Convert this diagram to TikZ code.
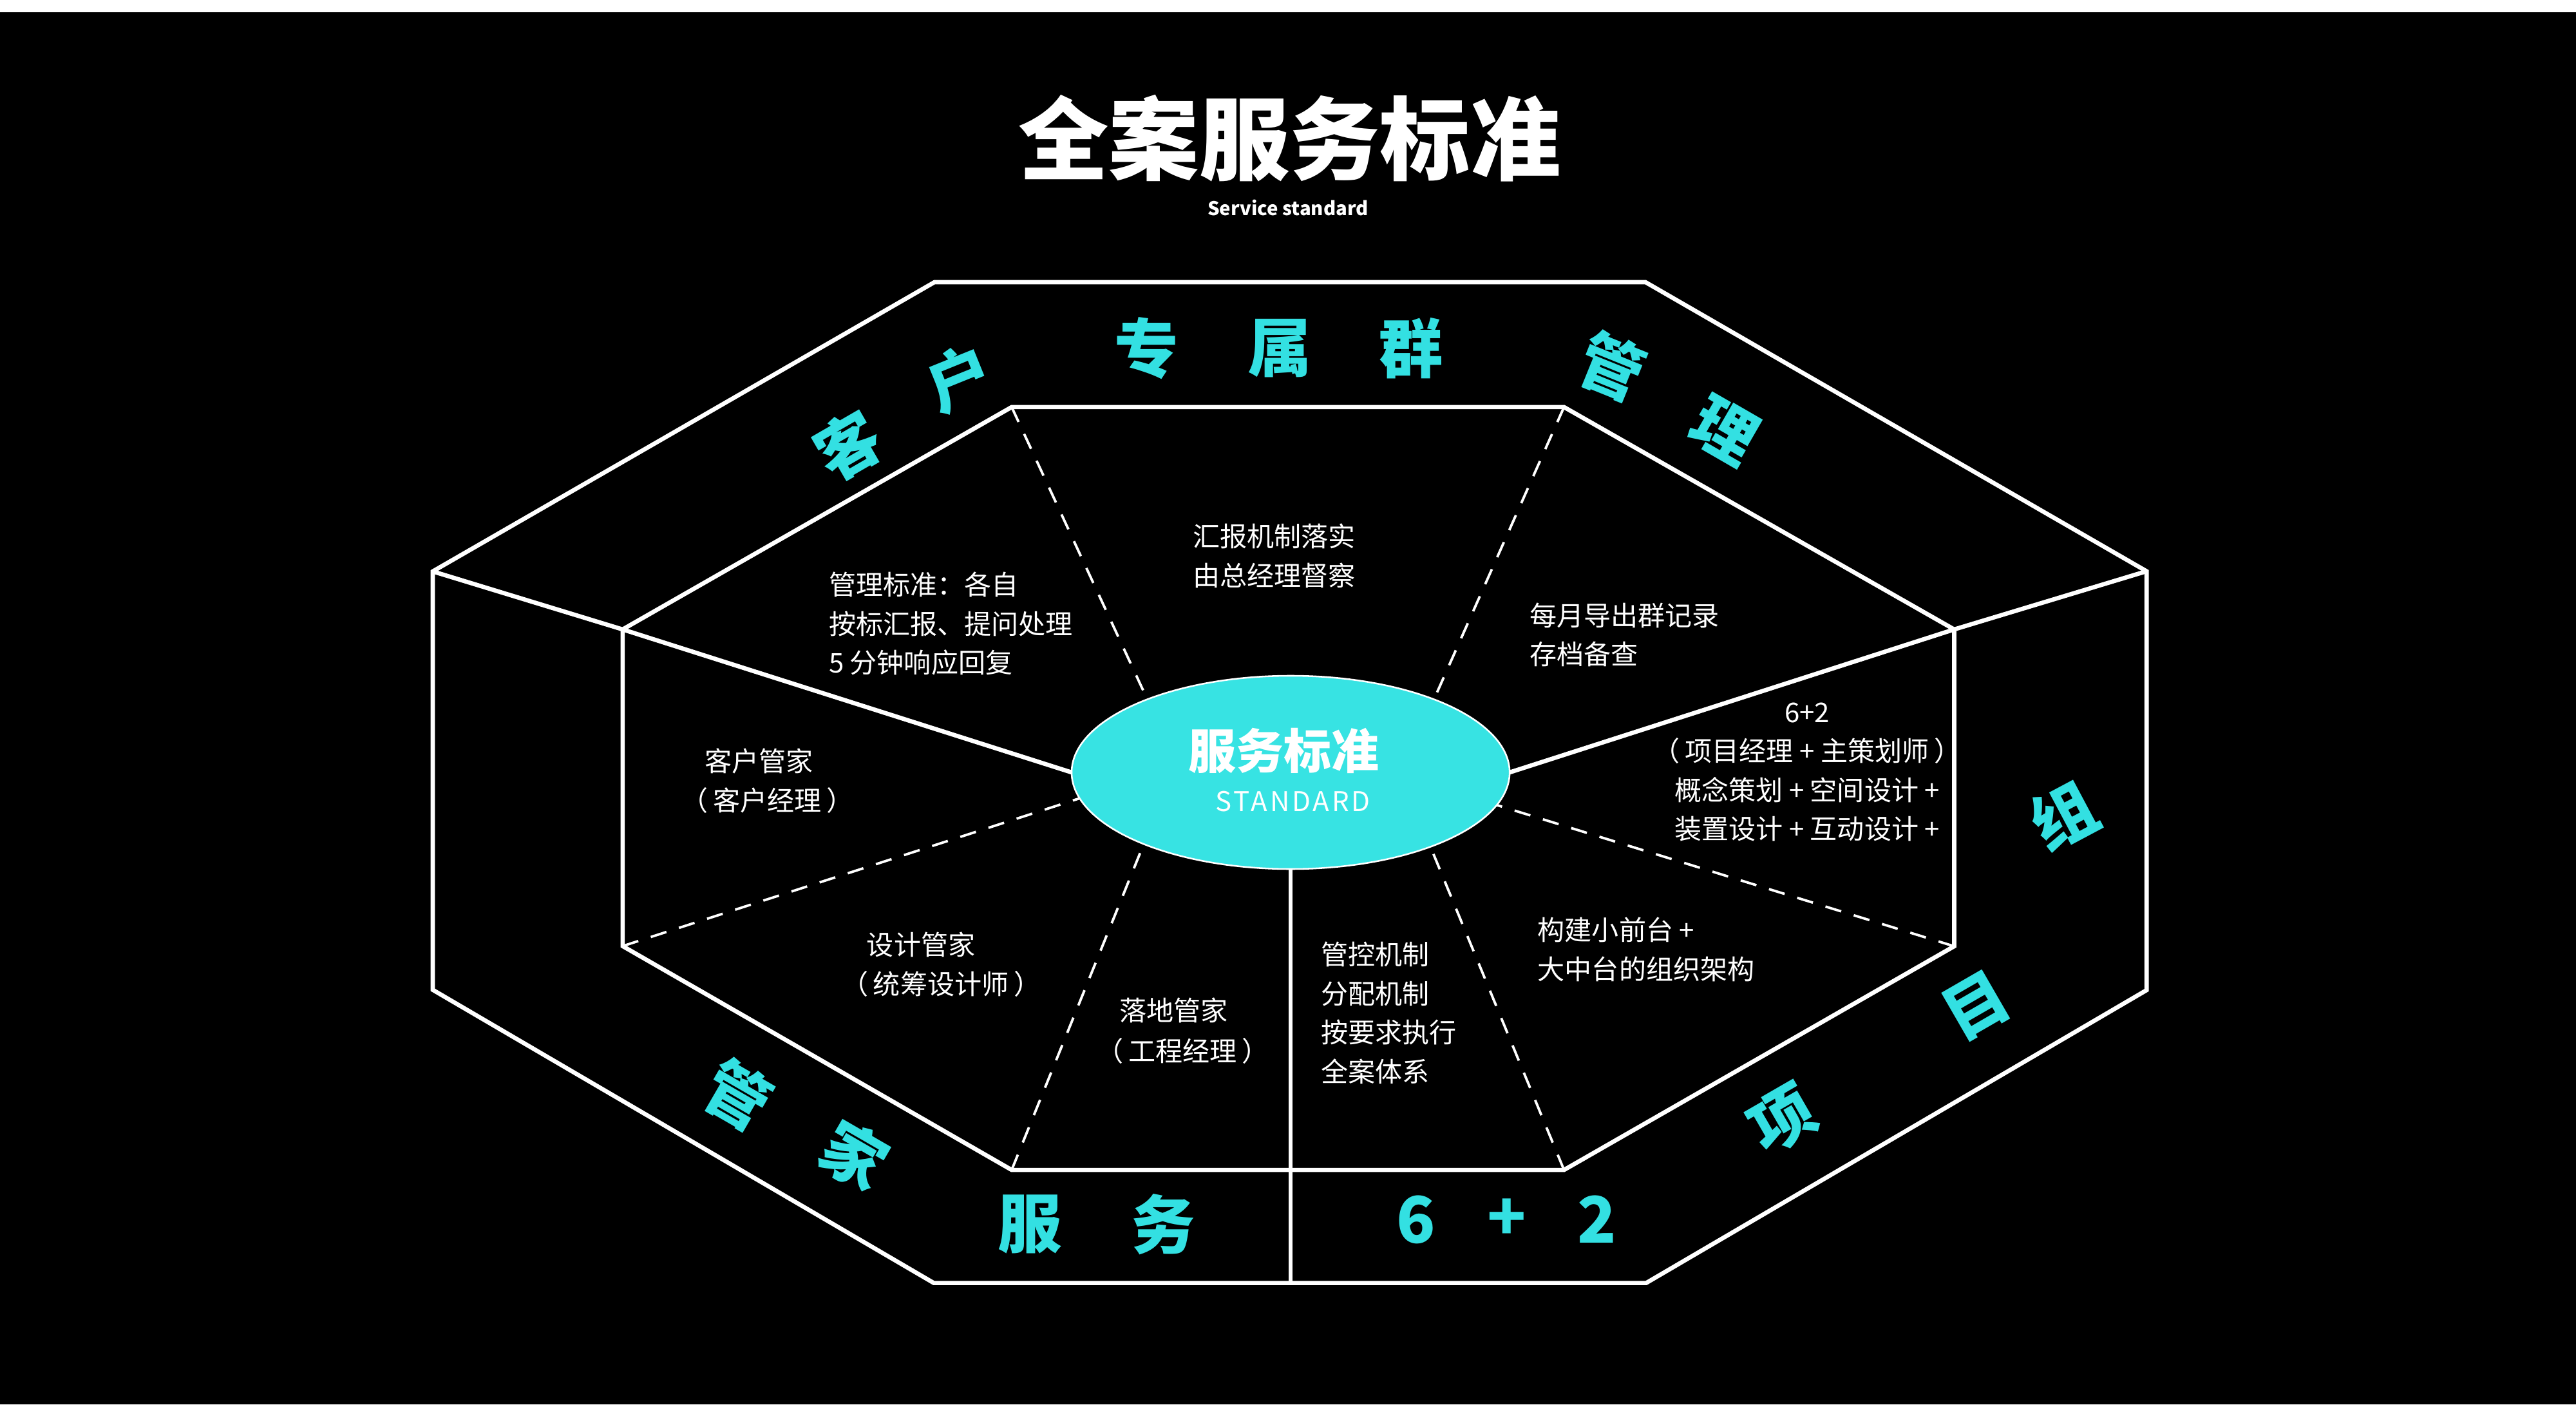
\documentclass[tikz,border=0pt]{standalone}
\usepackage{fontspec}
\setmainfont{Noto Sans CJK SC}
\usetikzlibrary{shapes.geometric}
\definecolor{aqua}{HTML}{37E3E3}
\definecolor{aquatext}{HTML}{33E0E2}
\newcommand{\lpar}{（\kern3pt}
\newcommand{\rpar}{\kern3pt）}
\begin{document}
\begin{tikzpicture}[x=1pt,y=-1pt,
  frame/.style={draw=white,line width=2.6pt,line join=miter},
  spoke/.style={draw=white,line width=1.5pt,dash pattern=on 10pt off 8pt},
  ray/.style={draw=white,line width=2.6pt},
  stem/.style={draw=white,line width=2.2pt},
  body/.style={text=white,font=\fontsize{16.5}{23.7}\selectfont,inner sep=0pt,outer sep=0pt},
  bandlabel/.style={text=aquatext,font=\bfseries\fontsize{39}{39}\selectfont,inner sep=0pt}]
% background
\fill[black] (0,0) rectangle (1568,854.56);
\fill[white] (0,0) rectangle (1568,7.4);
\useasboundingbox (0,0) rectangle (1568,854.56);
% outer octagon
\coordinate (O1) at (568.8,171.7);
\coordinate (O2) at (1001.6,171.7);
\coordinate (O3) at (1306.6,347.6);
\coordinate (O4) at (1306.6,602.5);
\coordinate (O5) at (1002,780.7);
\coordinate (O6) at (568.4,780.7);
\coordinate (O7) at (263.4,602.3);
\coordinate (O8) at (263.4,347.7);
% inner octagon
\coordinate (I1) at (615.8,247.7);
\coordinate (I2) at (952,247.7);
\coordinate (I3) at (1189.5,383);
\coordinate (I4) at (1189.5,575.8);
\coordinate (I5) at (952,711.9);
\coordinate (I6) at (615.8,711.9);
\coordinate (I7) at (379,575.7);
\coordinate (I8) at (379,383);
\draw[frame] (O1)--(O2)--(O3)--(O4)--(O5)--(O6)--(O7)--(O8)--cycle;
\draw[frame] (I1)--(I2)--(I3)--(I4)--(I5)--(I6)--(I7)--(I8)--cycle;
% centre ellipse
\node[ellipse,fill=aqua,draw=white,line width=1pt,minimum width=266.6pt,minimum height=117.6pt,inner sep=0pt,outer sep=0pt] (E) at (785.6,470) {};
\node[text=white,font=\bfseries\fontsize{29}{29}\selectfont,inner sep=0pt] (Et) at (781.3,456.7) {服务标准};
\node[text=white,font=\fontsize{16.5}{16.5}\selectfont\addfontfeature{LetterSpace=9},inner sep=0pt] (Es) at (787,487.8) {STANDARD};
% spokes
\draw[spoke] (I1) -- (E.153.4);
\draw[spoke] (I2) -- (E.27.5);
\draw[spoke] (I7) -- (E.187);
\draw[spoke] (I4) -- (E.351.8);
\draw[spoke] (I6) -- (E.206.6);
\draw[spoke] (I5) -- (E.332.4);
\draw[ray] (O8) -- (I8) -- (E.west);
\draw[ray] (O3) -- (I3) -- (E.east);
\coordinate (B) at (E.south |- O6);
\draw[stem] (E.south) -- (B);
% title
\node[text=white,font=\bfseries\fontsize{55}{55}\selectfont,inner sep=0pt] (title) at (785,84) {全案服务标准};
\node[text=white,font=\bfseries\fontsize{11.5}{11.5}\selectfont,inner sep=0pt] (sub) at (784,126.5) {Service standard};
% band labels
\node[bandlabel,rotate=30] (c1) at (516,271) {客};
\node[bandlabel,rotate=22] (c2) at (584,230) {户};
\node[bandlabel] (c3) at (698,212) {专};
\node[bandlabel] (c4) at (779,212) {属};
\node[bandlabel] (c5) at (859,212) {群};
\node[bandlabel,rotate=-22] (c6) at (981,223) {管};
\node[bandlabel,rotate=-30] (c7) at (1050,262) {理};
\node[bandlabel,rotate=28] (c8) at (1256,496) {组};
\node[bandlabel,rotate=30] (c9) at (1203,612) {目};
\node[bandlabel,rotate=30] (c10) at (1085,681) {项};
\node[bandlabel] (c11) at (862,742) {6};
\node[bandlabel] (c12) at (917,742) {+};
\node[bandlabel] (c13) at (972,742) {2};
\node[bandlabel] (c14) at (627,745) {服};
\node[bandlabel] (c15) at (708,745) {务};
\node[bandlabel,rotate=-30] (c16) at (449,666) {管};
\node[bandlabel,rotate=-30] (c17) at (520,703) {家};
% body texts
\node[body,align=left,anchor=west] (t1) at (504.5,379.5) {管理标准：各自\\按标汇报、提问处理\\5 分钟响应回复};
\node[body,align=left,anchor=west] (t2) at (726,338.3) {汇报机制落实\\由总经理督察};
\node[body,align=left,anchor=west] (t3) at (931,386.3) {每月导出群记录\\存档备查};
\node[body,align=center] (t4) at (1100,469.8) {6+2\\\lpar 项目经理 + 主策划师\rpar\\概念策划 + 空间设计 +\\装置设计 + 互动设计 +};
\node[body,align=left,anchor=west] (t5) at (936,577.8) {构建小前台 +\\大中台的组织架构};
\node[body,align=left,anchor=west] (t6) at (804,616.4) {管控机制\\分配机制\\按要求执行\\全案体系};
\node[body] (t7a) at (560.6,574.7) {设计管家};
\node[body] (t7b) at (572.8,598.8) {\lpar 统筹设计师\rpar};
\node[body] (t8a) at (714.5,614.9) {落地管家};
\node[body] (t8b) at (720,639.4) {\lpar 工程经理\rpar};
\node[body] (t9a) at (462,463) {客户管家};
\node[body] (t9b) at (467,487) {\lpar 客户经理\rpar};
\end{tikzpicture}
\end{document}
